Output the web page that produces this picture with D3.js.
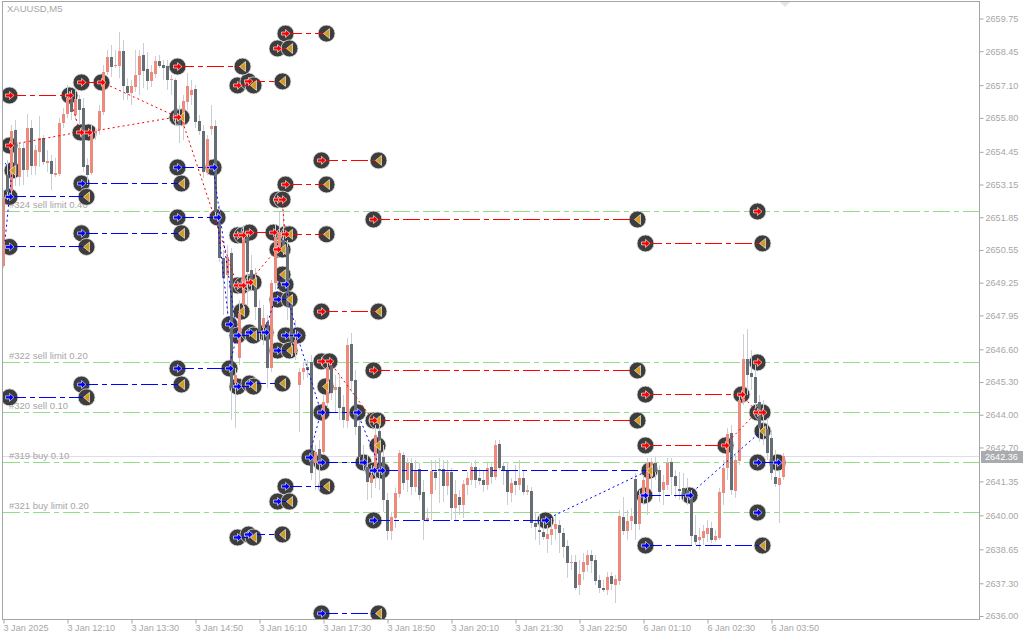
<!DOCTYPE html>
<html>
<head>
<meta charset="utf-8">
<style>
  html, body { margin: 0; padding: 0; background: #fff; overflow: hidden; }
  text { font-family: "Liberation Sans", sans-serif; font-size: 9.5px; fill: #a6a6a6; }
  .tick text, .tag { font-size: 9.1px; }
</style>
<script src="https://cdn.jsdelivr.net/npm/d3@7"></script>
</head>
<body>
<svg id="svg" width="1024" height="640"></svg>
<script>
// ── Data: XAUUSD M5 bars ──────────────────────────────────────────────────────

const opens = [
  2649.91,2653.53,2652.89,2655.32,2653.45,2654.60,2653.73,2655.40,2653.89,2654.44,2655.00,2654.01,2654.09,2653.53,
  2653.57,2655.60,2655.95,2656.59,2655.91,2656.55,2656.19,2653.93,2653.61,2655.20,2655.32,2656.03,2657.62,2658.22,
  2657.86,2657.86,2658.46,2657.07,2656.79,2657.03,2657.50,2658.30,2657.74,2657.27,2657.54,2658.06,2657.90,2657.86,
  2657.31,2657.31,2655.91,2655.52,2656.43,2656.71,2656.95,2655.68,2655.28,2653.61,2655.36,2655.48,2652.06,2650.23,
  2649.56,2650.43,2645.26,2646.26,2648.36,2651.07,2649.75,2649.28,2648.24,2647.45,2647.69,2645.86,2649.24,2650.67,
  2650.95,2650.67,2648.64,2646.45,2645.18,2645.70,2645.90,2646.10,2642.08,2642.64,2642.52,2644.47,2645.98,2644.98,
  2645.10,2644.31,2643.75,2646.81,2645.38,2643.55,2642.28,2641.92,2641.29,2641.88,2643.35,2642.32,2640.61,2639.38,
  2639.90,2640.85,2642.40,2641.41,2642.08,2641.13,2641.84,2640.93,2639.82,2640.85,2641.72,2641.84,2641.84,2641.17,
  2641.72,2640.29,2640.73,2640.41,2641.21,2641.41,2641.92,2641.49,2641.41,2641.21,2641.92,2641.53,2642.84,2641.96,
  2641.80,2640.89,2641.37,2641.21,2641.49,2640.93,2640.97,2639.70,2639.42,2639.34,2639.06,2639.22,2639.46,2639.62,
  2639.30,2638.78,2638.11,2638.15,2637.23,2637.75,2638.03,2638.42,2638.23,2637.43,2637.11,2637.03,2637.59,2637.23,
  2637.39,2639.94,2639.38,2639.78,2641.45,2639.66,2640.73,2640.73,2641.53,2642.08,2641.80,2641.01,2641.21,2642.12,
  2641.57,2641.05,2641.09,2641.01,2640.73,2639.22,2639.02,2639.10,2639.26,2639.50,2639.02,2639.10,2640.89,2641.88,
  2643.27,2640.97,2642.16,2644.51,2646.22,2645.66,2645.50,2644.51,2643.35,2643.43,2643.07,2641.53,2641.21,2641.53
];
const closes = [
  2652.66,2652.85,2655.28,2653.53,2654.60,2653.73,2655.40,2653.89,2654.52,2655.00,2654.05,2654.09,2653.57,2653.61,
  2655.60,2655.95,2656.59,2656.03,2656.55,2656.11,2653.85,2653.53,2655.24,2655.28,2656.07,2657.62,2658.22,2657.82,
  2657.90,2658.46,2657.07,2656.79,2657.07,2657.50,2658.26,2657.66,2657.27,2657.62,2658.06,2657.86,2657.78,2657.31,
  2657.35,2655.91,2655.52,2656.47,2657.07,2656.91,2655.64,2655.28,2653.65,2654.96,2655.48,2652.06,2650.23,2649.44,
  2650.27,2645.06,2645.58,2648.04,2651.15,2649.67,2649.28,2648.28,2647.25,2647.85,2645.86,2649.24,2651.07,2651.26,
  2650.55,2648.28,2646.85,2646.97,2645.70,2645.86,2645.78,2641.68,2642.52,2642.00,2644.51,2645.90,2644.86,2645.10,
  2644.27,2643.79,2646.77,2645.34,2643.51,2642.32,2641.96,2641.33,2641.60,2643.19,2641.92,2640.61,2639.38,2639.94,
  2640.89,2642.48,2641.29,2642.08,2641.13,2641.80,2640.81,2639.82,2639.90,2641.76,2641.49,2641.76,2641.17,2641.72,
  2640.29,2640.85,2640.41,2641.25,2641.49,2641.92,2641.41,2641.37,2641.21,2641.88,2641.53,2642.80,2641.88,2641.76,
  2640.93,2641.29,2641.21,2641.49,2640.93,2641.01,2639.70,2639.54,2639.34,2639.14,2639.26,2639.46,2639.66,2639.30,
  2638.74,2638.11,2638.15,2637.11,2637.67,2638.15,2638.42,2638.19,2637.39,2637.11,2637.03,2637.55,2637.27,2637.47,
  2639.98,2639.38,2639.78,2639.98,2639.66,2640.81,2641.41,2642.08,2642.12,2641.72,2640.93,2641.33,2642.08,2641.53,
  2641.17,2640.97,2640.81,2640.69,2639.18,2638.94,2639.14,2639.38,2639.50,2639.02,2639.18,2640.93,2641.88,2643.23,
  2641.01,2642.20,2644.59,2646.22,2645.58,2645.50,2644.47,2643.47,2643.47,2642.48,2641.68,2641.25,2641.49,2642.36
];
const highs = [
  2652.93,2654.13,2655.52,2655.72,2654.80,2654.84,2655.95,2655.72,2654.72,2655.88,2655.12,2654.52,2654.33,2654.21,
  2655.80,2656.19,2657.11,2656.91,2656.91,2656.71,2656.59,2654.21,2655.52,2655.40,2656.31,2657.90,2658.50,2658.70,
  2658.50,2659.21,2658.90,2657.38,2657.31,2658.50,2658.50,2658.78,2658.42,2657.90,2658.26,2658.30,2658.10,2658.10,
  2657.50,2657.38,2656.31,2656.71,2657.58,2657.31,2657.11,2655.91,2655.52,2655.12,2656.31,2655.72,2652.34,2650.55,
  2650.75,2650.63,2645.86,2648.56,2651.54,2651.26,2650.35,2649.83,2648.56,2648.36,2647.96,2649.36,2651.54,2652.06,
  2652.14,2650.95,2648.76,2647.77,2645.86,2646.10,2646.18,2646.38,2642.80,2643.00,2644.78,2646.18,2646.22,2645.58,
  2645.58,2644.78,2647.05,2647.25,2645.78,2643.79,2642.80,2642.40,2642.00,2643.59,2643.59,2642.80,2640.89,2640.13,
  2641.09,2642.60,2642.52,2642.28,2642.28,2642.20,2642.08,2641.41,2640.29,2642.20,2642.20,2642.28,2642.20,2642.20,
  2641.88,2641.41,2641.01,2641.41,2641.72,2642.12,2642.20,2641.88,2641.80,2642.08,2642.12,2643.00,2643.00,2642.12,
  2642.12,2641.49,2642.00,2642.20,2641.80,2641.21,2641.13,2640.13,2640.01,2639.82,2639.62,2639.90,2640.01,2639.82,
  2639.50,2639.02,2638.42,2638.42,2638.23,2638.50,2638.62,2638.62,2638.42,2637.63,2637.43,2637.75,2637.75,2637.63,
  2640.21,2640.73,2640.21,2640.29,2641.68,2641.01,2641.60,2642.28,2642.28,2642.32,2642.00,2641.60,2642.28,2642.28,
  2641.80,2641.72,2641.68,2641.49,2641.01,2640.01,2639.50,2639.62,2639.82,2639.74,2639.42,2641.09,2642.20,2643.47,
  2643.59,2642.40,2644.78,2647.21,2647.41,2646.57,2645.98,2644.78,2644.59,2643.87,2643.39,2642.60,2641.80,2642.48
];
const lows = [
  2649.83,2652.54,2652.73,2653.09,2653.09,2653.13,2653.45,2653.53,2653.53,2653.85,2653.93,2653.65,2652.93,2653.45,
  2653.49,2655.40,2655.80,2655.72,2655.72,2655.52,2653.65,2653.13,2653.53,2654.92,2655.12,2655.91,2657.50,2657.42,
  2657.78,2657.38,2656.51,2656.51,2656.31,2656.83,2656.71,2656.99,2656.91,2657.03,2657.38,2657.78,2657.31,2656.91,
  2656.71,2655.52,2654.80,2654.92,2656.11,2656.31,2655.40,2655.12,2653.41,2653.53,2655.12,2651.82,2650.07,2647.96,
  2647.96,2643.79,2643.47,2645.98,2648.08,2648.36,2648.96,2647.77,2646.97,2646.77,2645.06,2645.70,2648.96,2650.47,
  2650.35,2647.77,2646.30,2646.18,2643.31,2645.38,2645.46,2641.41,2641.01,2641.01,2642.40,2644.27,2644.59,2644.11,
  2643.79,2643.47,2643.47,2644.90,2643.19,2642.12,2641.80,2640.61,2640.69,2641.09,2641.01,2640.13,2639.02,2639.02,
  2639.50,2640.69,2641.01,2640.93,2640.81,2640.93,2640.61,2639.02,2639.74,2639.82,2641.01,2640.49,2640.53,2640.81,
  2639.82,2639.82,2640.01,2639.90,2640.81,2641.21,2641.09,2641.21,2640.93,2641.01,2641.25,2641.41,2641.80,2641.21,
  2640.41,2640.53,2640.81,2641.01,2640.81,2640.81,2639.50,2639.02,2638.82,2639.02,2638.50,2638.82,2639.02,2638.50,
  2638.31,2637.51,2637.83,2637.03,2636.84,2637.43,2637.75,2637.71,2637.23,2636.91,2636.95,2636.84,2637.03,2636.52,
  2637.23,2639.22,2639.02,2639.42,2639.02,2639.42,2640.41,2640.01,2641.01,2641.41,2640.53,2640.41,2641.01,2640.81,
  2640.69,2640.61,2640.53,2640.41,2638.82,2638.82,2638.62,2638.82,2638.94,2638.90,2638.94,2639.02,2640.41,2641.41,
  2640.81,2640.69,2642.00,2644.39,2644.78,2644.98,2644.27,2642.92,2642.80,2642.20,2641.41,2641.13,2639.70,2641.41
];

const priceTicks = [2659.75,2658.45,2657.10,2655.80,2654.45,2653.15,2651.85,2650.55,2649.25,2647.95,2646.60,
  2645.30,2644.00,2642.70,2641.35,2640.00,2638.65,2637.30,2636.00];
const timeTickBars = [0,16,32,48,64,80,96,112,128,144,160,176,192];
const timeLabels = ['3 Jan 2025','3 Jan 12:10','3 Jan 13:30','3 Jan 14:50','3 Jan 16:10','3 Jan 17:30','3 Jan 18:50',
  '3 Jan 20:10','3 Jan 21:30','3 Jan 22:50','6 Jan 01:10','6 Jan 02:30','6 Jan 03:50'];

const bidPrice = 2642.36;

// order levels: price, label
const orderLevels = [
  [2652.10, '#324 sell limit 0.40'],
  [2646.10, '#322 sell limit 0.20'],
  [2644.11, '#320 sell 0.10'],
  [2642.12, '#319 buy 0.10'],
  [2640.13, '#321 buy limit 0.20']
];

// ── Data: trade markers [bar, price] ──────────────────────────────────────────

const sellArrows = [
  [1.5,2656.71],[16.5,2656.71],[19.5,2657.23],[24.5,2657.23],[1.5,2654.72],[19.25,2655.24],[21.25,2655.24],
  [43.5,2657.86],[58.5,2657.11],[61.25,2657.27],[70.5,2659.17],[68.5,2658.58],[43.5,2655.84],[79.5,2654.13],
  [70.5,2653.17],[68.5,2652.57],[69.75,2652.57],[58.5,2651.15],[59.75,2651.15],[61.5,2651.26],[67.5,2651.26],
  [70.5,2651.19],[68.5,2650.59],[58.5,2649.16],[59.75,2649.16],[61.5,2649.28],[79.5,2648.12],[79.5,2646.14],
  [81.5,2646.14],[92.5,2645.78],[92.5,2643.79],[92.5,2651.78],[160.5,2650.83],[188.5,2652.10],[160.5,2644.82],
  [184.5,2644.82],[160.5,2642.80],[180.5,2642.80],[188.5,2646.10],[188.5,2644.11],[189.75,2644.11]
];
const buyArrows = [
  [43.5,2653.85],[52.5,2653.85],[19.5,2653.21],[1.5,2652.68],[43.5,2651.86],[53.5,2651.86],[19.5,2651.23],
  [1.5,2650.69],[70.5,2649.20],[68.5,2648.60],[56.5,2647.61],[58.5,2647.17],[61.5,2647.29],[65.5,2647.29],
  [70.5,2647.17],[73.5,2647.17],[68.5,2646.57],[43.5,2645.86],[56.5,2645.86],[19.5,2645.22],[58.5,2645.14],
  [61.5,2645.26],[1.5,2644.71],[79.5,2644.11],[88.5,2644.11],[76.5,2642.32],[79.5,2642.12],[90,2642.12],
  [92.5,2641.80],[94.5,2641.80],[70.5,2641.17],[68.5,2640.57],[58.5,2639.14],[61.25,2639.26],[79.5,2636.12],
  [92.5,2639.82],[135.5,2639.82],[160.25,2640.81],[171.5,2640.81],[160.5,2638.82],[188.5,2642.12],[193.5,2642.12],
  [188.5,2640.13]
];
const exitTriangles = [
  [2.25,2653.73],[20.75,2652.68],[20.75,2650.69],[20.75,2644.71],[44.5,2655.84],[44.5,2653.21],[44.5,2651.23],
  [44.5,2645.22],[59.75,2657.86],[62.5,2657.11],[69.75,2657.27],[80.75,2659.17],[71.5,2658.58],[93.75,2654.13],
  [80.75,2653.17],[158.5,2651.78],[189.75,2650.83],[71.5,2651.19],[80.75,2651.19],[69.75,2650.59],[62.5,2649.28],
  [69.75,2649.59],[71.5,2648.60],[59.5,2648.12],[93.75,2648.12],[62.5,2647.17],[71.5,2646.57],[62.5,2645.14],
  [69.75,2645.26],[80.5,2645.14],[158.5,2645.78],[93.5,2643.79],[158.5,2643.79],[93.5,2642.80],[161.5,2641.80],
  [80.75,2641.17],[71.5,2640.57],[62.5,2639.14],[69.75,2639.26],[93.75,2636.12],[189.75,2638.82],[189.75,2643.37]
];

// trade lines [from bar, to bar, price]
const sellTradeLines = [
  [1.5,16.5,2656.71],[19.5,24.5,2657.23],[19.25,21.25,2655.24],[43.5,59.75,2657.86],[58.5,62.5,2657.11],
  [61.25,69.75,2657.27],[70.5,80.75,2659.17],[68.5,71.5,2658.58],[79.5,93.75,2654.13],[70.5,80.75,2653.17],
  [92.5,158.5,2651.78],[160.5,189.75,2650.83],[61.5,67.5,2651.26],[70.5,80.75,2651.19],[68.5,69.75,2650.59],
  [58.5,59.75,2649.16],[61.5,62.5,2649.28],[79.5,93.75,2648.12],[79.5,81.5,2646.14],[92.5,158.5,2645.78],
  [92.5,158.5,2643.79],[160.5,184.5,2644.82],[160.5,180.5,2642.80],[188.5,189.75,2644.11],[43.5,44.5,2655.84]
];
const buyTradeLines = [
  [43.5,52.5,2653.85],[19.5,44.5,2653.21],[1.5,20.75,2652.68],[43.5,53.5,2651.86],[19.5,44.5,2651.23],
  [1.5,20.75,2650.69],[68.5,71.5,2648.60],[61.5,65.5,2647.29],[58.5,62.5,2647.17],[70.5,73.5,2647.17],
  [68.5,71.5,2646.57],[43.5,56.5,2645.86],[19.5,44.5,2645.22],[58.5,62.5,2645.14],[61.5,69.75,2645.26],
  [1.5,20.75,2644.71],[79.5,88.5,2644.11],[79.5,90,2642.12],[94.5,161.5,2641.80],[70.5,80.75,2641.17],
  [68.5,71.5,2640.57],[58.5,62.5,2639.14],[61.25,69.75,2639.26],[79.5,93.75,2636.12],[92.5,135.5,2639.82],
  [160.25,171.5,2640.81],[160.5,189.75,2638.82],[188.5,193.5,2642.12]
];

// dotted links between trades [bar1, price1, bar2, price2]
const sellLinks = [
  [1.5,2654.72,19.25,2655.24],[21.25,2655.24,43.5,2655.84],[24.5,2657.23,43.5,2655.84],[16.5,2656.71,19.25,2655.24],
  [44.5,2655.84,58.5,2649.16],[61.5,2649.28,68.5,2650.59],[69.75,2652.57,70.5,2651.19],[81.5,2646.14,92.5,2643.79],
  [184.5,2644.82,188.5,2644.11],[180.5,2642.80,188.5,2644.11]
];
const buyLinks = [
  [0.5,2654.00,2.25,2653.73],[2.25,2653.73,0.5,2650.90],[52.5,2653.85,58.5,2647.17],[53.5,2651.86,56.5,2647.61],
  [56.5,2645.86,58.5,2647.17],[65.5,2647.29,69.75,2649.59],[70.5,2649.20,73.5,2647.17],[73.5,2647.17,79.5,2644.11],
  [76.5,2642.32,79.5,2644.11],[88.5,2644.11,94.5,2641.80],[135.5,2639.82,161.5,2641.80],[171.5,2640.81,189.75,2643.37]
];

// ── Scales ────────────────────────────────────────────────────────────────────

const x = d3.scaleLinear().domain([0, 244]).range([3, 979]);
const y = d3.scaleLinear().domain([2636, 2659.75]).range([616, 18.5]);

const UP_COLOR   = '#ee8a7c';
const DOWN_COLOR = '#676d74';
const WICK_COLOR = '#c9cdd4';
const AXIS_COLOR = '#a3a5a8';
const LEVEL_COLOR = '#92dd88';

const svg = d3.select('#svg');
svg.append('defs').append('clipPath').attr('id', 'plot')
  .append('rect').attr('x', 3).attr('y', 2).attr('width', 976).attr('height', 617);

// ── Axes ──────────────────────────────────────────────────────────────────────

const yAxis = d3.axisRight(y).tickValues(priceTicks).tickSize(4).tickPadding(2).tickFormat(d3.format('.2f'));
const xAxis = d3.axisBottom(x).tickValues(timeTickBars).tickSize(4).tickPadding(1)
  .tickFormat((d, i) => timeLabels[i]);

const yG = svg.append('g').attr('transform', 'translate(979.5,0)').call(yAxis);
yG.select('.domain').remove();
const xG = svg.append('g').attr('transform', 'translate(0.5,619.5)').call(xAxis);
xG.select('.domain').remove();
xG.selectAll('text').attr('text-anchor', 'start').attr('dx', -0.5);
svg.selectAll('.tick line').attr('stroke', AXIS_COLOR);

svg.append('rect').attr('x', 2.5).attr('y', 1.5).attr('width', 977).attr('height', 618)
  .attr('fill', 'none').attr('stroke', AXIS_COLOR).attr('shape-rendering', 'crispEdges');

// ── Chart layers ──────────────────────────────────────────────────────────────

const plot = svg.append('g').attr('clip-path', 'url(#plot)');

plot.append('path').attr('d', `M${x(195) - 3},2 h10 l-5,5 z`).attr('fill', '#e3e5e8');

plot.append('line').attr('x1', 3).attr('x2', 979).attr('y1', Math.round(y(bidPrice)) + 0.5)
  .attr('y2', Math.round(y(bidPrice)) + 0.5).attr('stroke', '#dcdfe3');

plot.selectAll('.level').data(orderLevels).join('line').attr('class', 'level')
  .attr('x1', 3).attr('x2', 979)
  .attr('y1', d => Math.round(y(d[0])) + 0.5).attr('y2', d => Math.round(y(d[0])) + 0.5)
  .attr('stroke', LEVEL_COLOR).attr('stroke-dasharray', '17 4 5 4');

plot.selectAll('.level-label').data(orderLevels).join('text').attr('class', 'level-label')
  .attr('x', 9).attr('y', d => y(d[0]) - 3).text(d => d[1]);

svg.append('text').attr('x', 7).attr('y', 12).text('XAUUSD,M5');

// marker discs sit under the candles
const allMarkers = [...sellArrows, ...buyArrows, ...exitTriangles];
plot.selectAll('.disc').data(allMarkers).join('circle').attr('class', 'disc')
  .attr('cx', d => x(d[0]) + 0.5).attr('cy', d => y(d[1]) + 0.5).attr('r', 8.5)
  .attr('fill', '#3d3d3d').attr('stroke', '#e2e3e5').attr('stroke-width', 0.8);

// candles
const bars = d3.range(opens.length);
plot.selectAll('.wick').data(bars).join('line').attr('class', 'wick')
  .attr('x1', i => x(i) + 0.5).attr('x2', i => x(i) + 0.5)
  .attr('y1', i => y(highs[i])).attr('y2', i => y(lows[i]))
  .attr('stroke', WICK_COLOR).attr('shape-rendering', 'crispEdges');

plot.selectAll('.body').data(bars).join('rect').attr('class', 'body')
  .attr('x', i => x(i) - 1).attr('width', 3)
  .attr('y', i => y(Math.max(opens[i], closes[i])))
  .attr('height', i => Math.max(1, Math.abs(y(opens[i]) - y(closes[i]))))
  .attr('fill', i => closes[i] >= opens[i] ? UP_COLOR : DOWN_COLOR)
  .attr('shape-rendering', 'crispEdges');

// trade lines and dotted links
function drawTradeLines(data, color) {
  plot.append('g').selectAll('line').data(data).join('line')
    .attr('x1', d => x(d[0])).attr('x2', d => x(d[1]))
    .attr('y1', d => Math.round(y(d[2])) + 0.5).attr('y2', d => Math.round(y(d[2])) + 0.5)
    .attr('stroke', color).attr('stroke-dasharray', '17 4 5 4');
}
function drawLinks(data, color) {
  plot.append('g').selectAll('line').data(data).join('line')
    .attr('x1', d => x(d[0])).attr('y1', d => y(d[1]))
    .attr('x2', d => x(d[2])).attr('y2', d => y(d[3]))
    .attr('stroke', color).attr('stroke-dasharray', '2 3');
}
drawLinks(sellLinks, '#f00');
drawLinks(buyLinks, '#00f');
drawTradeLines(sellTradeLines, '#f00');
drawTradeLines(buyTradeLines, '#00f');

// glyphs
const ARROW = 'M-4,-1.5 H0 V-4 L4.5,0 L0,4 V1.5 H-4 Z';
const TRIANGLE = 'M-3,0 L3,-5 V5 Z';

function drawGlyphs(data, path, fill) {
  plot.append('g').selectAll('path').data(data).join('path')
    .attr('d', path)
    .attr('transform', d => `translate(${x(d[0]) + 0.5},${y(d[1]) + 0.5})`)
    .attr('fill', fill).attr('stroke', '#fff').attr('stroke-width', 0.6);
}
drawGlyphs(exitTriangles, TRIANGLE, '#d39a1f');
drawGlyphs(sellArrows, ARROW, '#f00');
drawGlyphs(buyArrows, ARROW, '#00f');

// bid price tag
svg.append('rect').attr('x', 981).attr('y', Math.round(y(bidPrice)) - 5).attr('width', 42).attr('height', 12)
  .attr('fill', '#a9abae');
svg.append('text').attr('class', 'tag').attr('x', 985).attr('y', Math.round(y(bidPrice)) + 4)
  .style('fill', '#fff').text(d3.format('.2f')(bidPrice));
</script>
</body>
</html>
